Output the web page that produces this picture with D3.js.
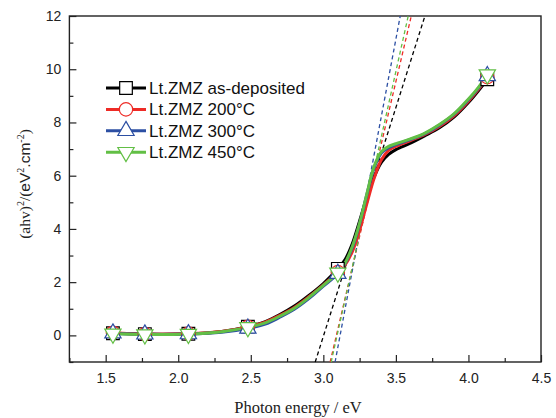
<!DOCTYPE html>
<html>
<head>
<meta charset="utf-8">
<script src="https://cdn.jsdelivr.net/npm/d3@7"></script>
<style>
  body { margin: 0; background: #fff; }
  svg { display: block; }
</style>
</head>
<body>
<svg id="chart" width="556" height="418"></svg>
<script>
// photon energy (eV) at the read points of every curve
const energy = [1.55, 1.77, 2.07, 2.3, 2.48, 2.6, 2.7, 2.8, 2.9, 3.0, 3.1, 3.15, 3.2, 3.25, 3.3, 3.35, 3.4, 3.45, 3.5, 3.6, 3.7, 3.8, 3.9, 4.0, 4.07, 4.13];
const markerEnergy = [1.55, 1.77, 2.07, 2.48, 3.1, 4.13];

const asDeposited = [0.08, 0.05, 0.06, 0.15, 0.33, 0.52, 0.78, 1.1, 1.5, 1.95, 2.5, 2.85, 3.45, 4.3, 5.2, 5.95, 6.5, 6.8, 6.98, 7.22, 7.5, 7.8, 8.2, 8.75, 9.2, 9.62];
const t200 = [0.1, 0.05, 0.07, 0.15, 0.32, 0.5, 0.75, 1.05, 1.45, 1.9, 2.38, 2.65, 3.15, 3.95, 4.95, 5.9, 6.6, 6.95, 7.1, 7.32, 7.55, 7.85, 8.25, 8.8, 9.25, 9.7];
const t300 = [0.08, 0.04, 0.05, 0.12, 0.26, 0.42, 0.68, 0.98, 1.38, 1.85, 2.32, 2.7, 3.3, 4.2, 5.3, 6.3, 6.85, 7.05, 7.17, 7.36, 7.58, 7.9, 8.3, 8.85, 9.3, 9.75];
const t450 = [0.06, 0.03, 0.05, 0.14, 0.3, 0.47, 0.72, 1.02, 1.42, 1.88, 2.35, 2.72, 3.35, 4.22, 5.32, 6.35, 6.9, 7.1, 7.2, 7.38, 7.6, 7.92, 8.32, 8.88, 9.33, 9.8];

// linear fits drawn dashed: [energy at y=-1, energy at y=12]
const fitEnds = [[2.944, 3.70], [3.047, 3.606], [3.081, 3.53], [3.054, 3.585]];

const seriesNames = ["Lt.ZMZ as-deposited", "Lt.ZMZ 200\u00B0C", "Lt.ZMZ 300\u00B0C", "Lt.ZMZ 450\u00B0C"];
const seriesValues = [asDeposited, t200, t300, t450];
const seriesColors = ["#000000", "#ee2b26", "#2c4fa3", "#62bf45"];
const seriesSymbols = ["square", "circle", "up", "down"];

const xTicks = [1.5, 2.0, 2.5, 3.0, 3.5, 4.0, 4.5];
const yTicks = [0, 2, 4, 6, 8, 10, 12];

const svg = d3.select("#chart");
const plotLeft = 69.4, plotRight = 541, plotTop = 16, plotBottom = 362;

const x = d3.scaleLinear().domain([1.25, 4.5]).range([plotLeft, plotRight]);
const y = d3.scaleLinear().domain([-1, 12]).range([plotBottom, plotTop]);

const axisColor = "#222";

// frame
svg.append("rect")
  .attr("x", plotLeft).attr("y", plotTop)
  .attr("width", plotRight - plotLeft).attr("height", plotBottom - plotTop)
  .attr("fill", "none").attr("stroke", axisColor).attr("stroke-width", 1.4);

// x axis (ticks inward)
const xAxis = svg.append("g").attr("transform", "translate(0," + plotBottom + ")")
  .call(d3.axisBottom(x).tickValues(xTicks).tickSize(-7).tickPadding(11).tickFormat(d3.format(".1f")));
xAxis.select(".domain").remove();
xAxis.selectAll("line").attr("stroke", axisColor).attr("stroke-width", 1.2);
xAxis.selectAll("text").attr("font-family", "Liberation Sans, Arial, sans-serif").attr("font-size", 14).attr("fill", "#222");

const xMinor = svg.append("g").attr("transform", "translate(0," + plotBottom + ")")
  .call(d3.axisBottom(x).tickValues([1.25, 1.75, 2.25, 2.75, 3.25, 3.75, 4.25]).tickSize(-4).tickFormat(""));
xMinor.select(".domain").remove();
xMinor.selectAll("line").attr("stroke", axisColor).attr("stroke-width", 1.2);

// y axis
const yAxis = svg.append("g").attr("transform", "translate(" + plotLeft + ",0)")
  .call(d3.axisLeft(y).tickValues(yTicks).tickSize(-7).tickPadding(8));
yAxis.select(".domain").remove();
yAxis.selectAll("line").attr("stroke", axisColor).attr("stroke-width", 1.2);
yAxis.selectAll("text").attr("font-family", "Liberation Sans, Arial, sans-serif").attr("font-size", 14).attr("fill", "#222");

const yMinor = svg.append("g").attr("transform", "translate(" + plotLeft + ",0)")
  .call(d3.axisLeft(y).tickValues([-1, 1, 3, 5, 7, 9, 11]).tickSize(-4).tickFormat(""));
yMinor.select(".domain").remove();
yMinor.selectAll("line").attr("stroke", axisColor).attr("stroke-width", 1.2);

// axis titles
svg.append("text")
  .attr("x", 298).attr("y", 413)
  .attr("text-anchor", "middle")
  .attr("font-family", "Liberation Serif, Times New Roman, serif").attr("font-size", 16.5).attr("fill", "#222")
  .text("Photon energy / eV");

const yTitle = svg.append("text")
  .attr("transform", "translate(30,184) rotate(-90)")
  .attr("text-anchor", "middle")
  .attr("font-family", "Liberation Serif, Times New Roman, serif").attr("font-size", 15.5).attr("fill", "#222");
yTitle.append("tspan").text("(ahv)");
yTitle.append("tspan").attr("dy", -6).attr("font-size", 10).text("2");
yTitle.append("tspan").attr("dy", 6).text("/(");
yTitle.append("tspan").attr("font-family", "Liberation Sans, Arial, sans-serif").text("eV");
yTitle.append("tspan").attr("dy", -6).attr("font-size", 10).text("2");
yTitle.append("tspan").attr("dy", 6).attr("font-family", "Liberation Sans, Arial, sans-serif").text(".cm");
yTitle.append("tspan").attr("dy", -6).attr("font-size", 10).text("-2");
yTitle.append("tspan").attr("dy", 6).text(")");

const plot = svg.append("g");

// dashed linear fits
plot.selectAll(".fit").data(fitEnds).enter().append("line")
  .attr("class", "fit")
  .attr("x1", d => x(d[0])).attr("y1", y(-1))
  .attr("x2", d => x(d[1])).attr("y2", y(12))
  .attr("stroke", (d, i) => seriesColors[i])
  .attr("stroke-width", 1.3)
  .attr("stroke-dasharray", "4,3");

const line = d3.line()
  .x((d, i) => x(energy[i]))
  .y(d => y(d))
  .curve(d3.curveCatmullRom.alpha(0.5));

plot.selectAll(".curve").data(seriesValues).enter().append("path")
  .attr("class", "curve")
  .attr("d", line)
  .attr("fill", "none")
  .attr("stroke", (d, i) => seriesColors[i])
  .attr("stroke-width", 3);

function symbolPath(kind) {
  if (kind === "square") return d3.symbol(d3.symbolSquare, 160)();
  if (kind === "circle") return d3.symbol(d3.symbolCircle, 140)();
  return d3.symbol(d3.symbolTriangle, 115)();
}

seriesValues.forEach((vals, s) => {
  const pts = markerEnergy.map(e => [e, vals[energy.indexOf(e)]]);
  plot.selectAll(".m" + s).data(pts).enter().append("path")
    .attr("class", "m" + s)
    .attr("d", symbolPath(seriesSymbols[s]))
    .attr("transform", d => "translate(" + x(d[0]) + "," + y(d[1]) + ")" + (seriesSymbols[s] === "down" ? " rotate(180)" : ""))
    .attr("fill", "#fff")
    .attr("stroke", seriesColors[s])
    .attr("stroke-width", 1.2);
});

// legend
const legend = svg.selectAll(".legend").data(seriesNames).enter().append("g")
  .attr("class", "legend")
  .attr("transform", (d, i) => "translate(106," + (88 + i * 21.4) + ")");
legend.append("line")
  .attr("x1", 0).attr("x2", 40).attr("y1", 0).attr("y2", 0)
  .attr("stroke", (d, i) => seriesColors[i]).attr("stroke-width", 3);
legend.append("path")
  .attr("d", (d, i) => symbolPath(seriesSymbols[i]))
  .attr("transform", (d, i) => "translate(20,0)" + (seriesSymbols[i] === "down" ? " rotate(180)" : ""))
  .attr("fill", "#fff")
  .attr("stroke", (d, i) => seriesColors[i])
  .attr("stroke-width", 1.2);
legend.append("text")
  .attr("x", 43).attr("y", 6)
  .attr("font-family", "Liberation Sans, Arial, sans-serif").attr("font-size", 17).attr("fill", "#111")
  .text(d => d);
</script>
</body>
</html>
